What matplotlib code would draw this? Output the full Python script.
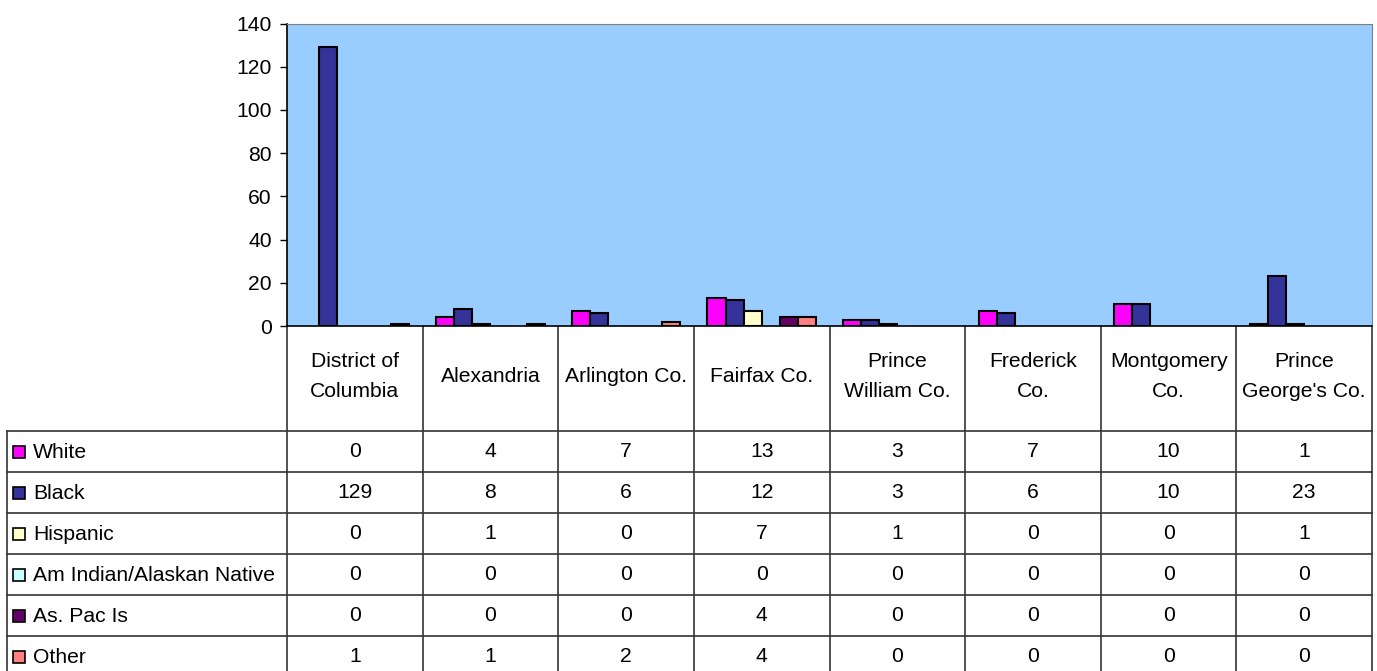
import matplotlib.pyplot as plt
import numpy as np

plt.rcParams['font.family'] = ['Liberation Sans', 'DejaVu Sans']

# data
places = ['District of\nColumbia', 'Alexandria', 'Arlington Co.', 'Fairfax Co.',
          'Prince\nWilliam Co.', 'Frederick\nCo.', 'Montgomery\nCo.', 'Prince\nGeorge\'s Co.']
groups = ['White', 'Black', 'Hispanic', 'Am Indian/Alaskan Native', 'As. Pac Is', 'Other']
white = [0, 4, 7, 13, 3, 7, 10, 1]
black = [129, 8, 6, 12, 3, 6, 10, 23]
hispanic = [0, 1, 0, 7, 1, 0, 0, 1]
am_indian = [0, 0, 0, 0, 0, 0, 0, 0]
as_pac = [0, 0, 0, 4, 0, 0, 0, 0]
other = [1, 1, 2, 4, 0, 0, 0, 0]
colors = ['#FF00FF', '#333399', '#FFFFCC', '#CCFFFF', '#660066', '#FF8080']

series = [white, black, hispanic, am_indian, as_pac, other]

W, H = 1377, 671
fig = plt.figure(figsize=(W / 100, H / 100), dpi=100)
fs = 15.2

# plot area in pixels
left, right, top, base = 287, 1372, 23.5, 326
ax = fig.add_axes([left / W, 1 - base / H, (right - left) / W, (base - top) / H])
ax.set_facecolor('#99CCFF')

n = len(places)
bw = 1 / 7.5
x = np.arange(n)
for i, vals in enumerate(series):
    vals = np.array(vals, dtype=float)
    h = np.where(vals > 0, vals, np.nan)  # excel leaves zero bars out
    ax.bar(x + (i - 2.5) * bw, h, bw, color=colors[i], edgecolor='black', linewidth=1.5, zorder=3)

ax.set_xlim(-0.5, n - 0.5)
ax.set_ylim(0, 140)
ax.set_yticks(range(0, 141, 20))
ax.set_xticks([])
ax.tick_params(axis='y', labelsize=fs, length=5, width=1, pad=6, colors='black')
for s in ['top', 'right']:
    ax.spines[s].set_color('#808080')
for s in ['left', 'bottom']:
    ax.spines[s].set_color('black')
    ax.spines[s].set_linewidth(1.2)

# data table below the plot, drawn in pixel coordinates
tb = fig.add_axes([0, 0, 1, 1], zorder=-1)
tb.set_xlim(0, W)
tb.set_ylim(H, 0)
tb.axis('off')

col_w = (right - left) / n
head_bot = 430.7
row_h = 41
lc = '#333333'
bottom = H + 10

for j in range(n + 1):
    xx = left + j * col_w
    tb.plot([xx, xx], [base, bottom], color=lc, lw=1.2)
tb.plot([7, 7], [head_bot, bottom], color=lc, lw=1.2)
for r in range(len(groups) + 1):
    yy = head_bot + r * row_h
    tb.plot([7, right], [yy, yy], color=lc, lw=1.2)

for j, name in enumerate(places):
    tb.text(left + (j + 0.5) * col_w, (base + head_bot) / 2 - 2, name, ha='center', va='center',
            fontsize=fs, linespacing=1.75)

for r, g in enumerate(groups):
    yc = head_bot + (r + 0.5) * row_h
    tb.add_patch(plt.Rectangle((12.5, yc - 5), 12, 12, facecolor=colors[r], edgecolor='black', lw=1.2))
    tb.text(33, yc + 1, g, ha='left', va='center', fontsize=fs)
    for j in range(n):
        tb.text(left + (j + 0.5) * col_w, yc, str(series[r][j]), ha='center', va='center', fontsize=fs)

fig.savefig('out.png', dpi=100)
